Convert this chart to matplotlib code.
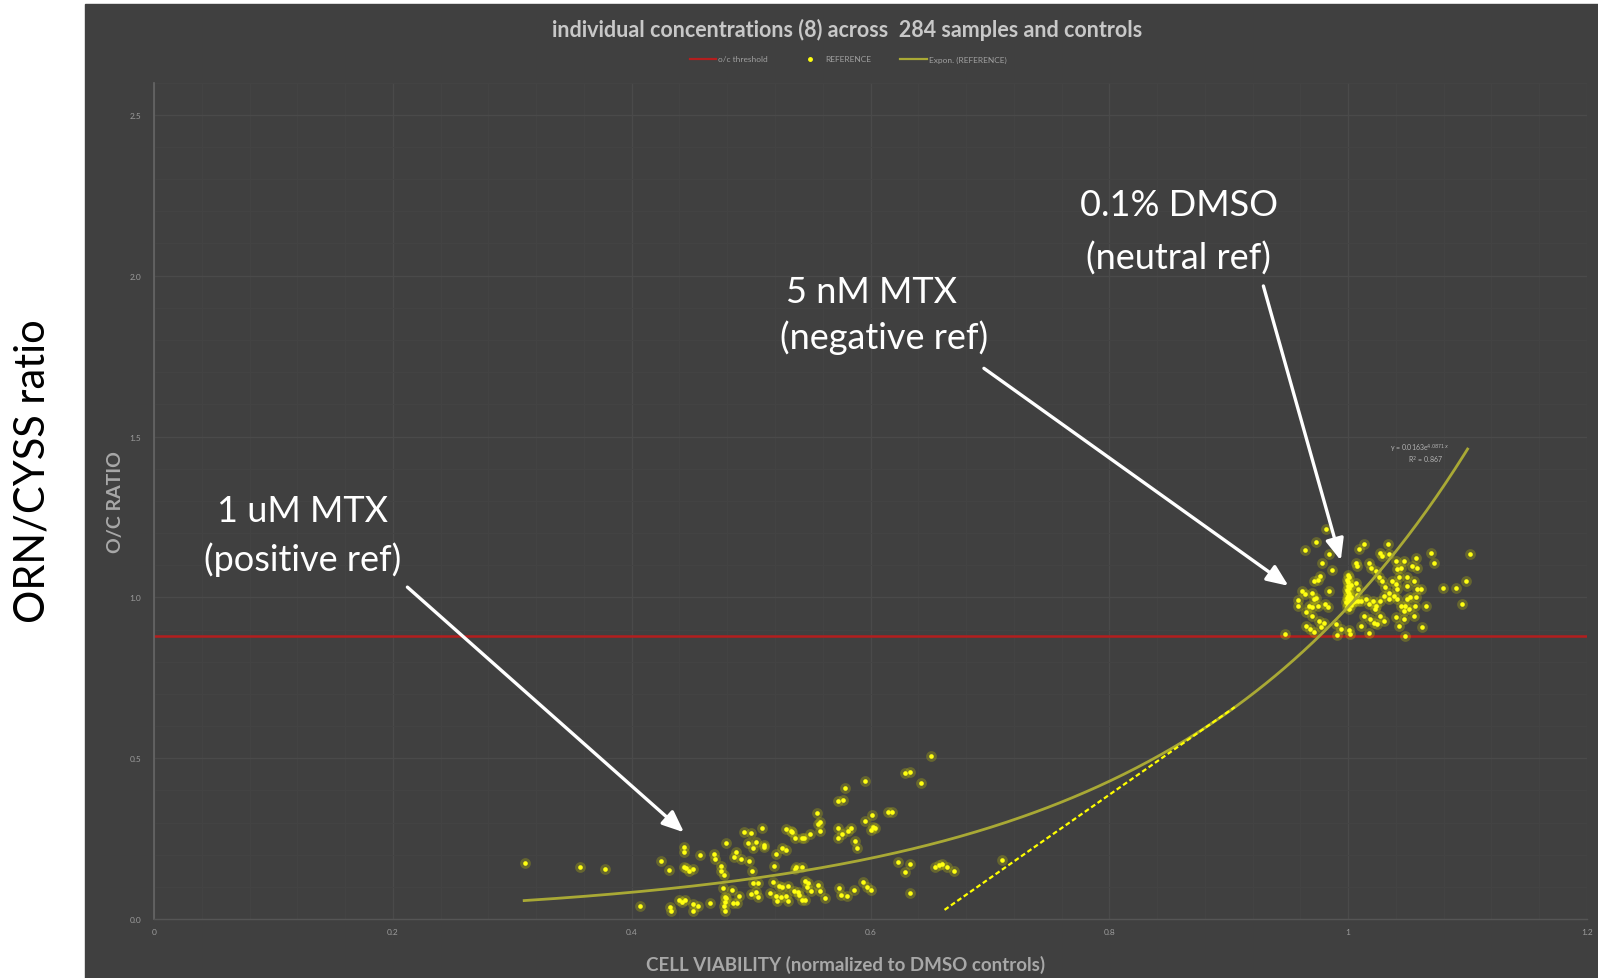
import numpy as np
import matplotlib
matplotlib.use("Agg")
import matplotlib.pyplot as plt
from matplotlib.patches import Rectangle
from matplotlib.lines import Line2D

# ---- data -------------------------------------------------------------
# treated samples, low viability cluster (cell viability, O/C ratio)
low_x = [0.311, 0.357, 0.378, 0.4067, 0.4245, 0.431, 0.4318, 0.433, 0.440, 0.4425,
         0.4435, 0.444, 0.444, 0.445, 0.4457, 0.448, 0.451, 0.451, 0.451, 0.4556,
         0.4575, 0.4658, 0.469, 0.470, 0.475, 0.475, 0.4764, 0.477, 0.477, 0.478,
         0.4778, 0.4778, 0.4787, 0.479, 0.484, 0.4848, 0.486, 0.4875, 0.488, 0.490,
         0.4917, 0.494, 0.497, 0.498, 0.500, 0.5005, 0.500, 0.502, 0.502, 0.504,
         0.504, 0.5056, 0.5056, 0.509, 0.5105, 0.5107, 0.516, 0.518, 0.519, 0.521,
         0.521, 0.522, 0.523, 0.525, 0.526, 0.526, 0.529, 0.529, 0.529, 0.531,
         0.531, 0.5336, 0.534, 0.536, 0.537, 0.537, 0.538, 0.539, 0.540, 0.543,
         0.543, 0.543, 0.544, 0.545, 0.545, 0.547, 0.548, 0.5495, 0.550, 0.555,
         0.556, 0.556, 0.558, 0.558, 0.558, 0.562, 0.5725, 0.573, 0.573, 0.574,
         0.5755, 0.576, 0.577, 0.579, 0.5805, 0.581, 0.584, 0.5866, 0.587, 0.5888,
         0.5936, 0.595, 0.5958, 0.597, 0.6005, 0.6005, 0.601, 0.602, 0.604, 0.6145,
         0.618, 0.623, 0.629, 0.629, 0.633, 0.633, 0.633, 0.6427, 0.651, 0.6544,
         0.6577, 0.660, 0.6638, 0.6697, 0.710]
low_y = [0.175, 0.163, 0.157, 0.042, 0.180, 0.153, 0.037, 0.026, 0.061, 0.053,
         0.163, 0.223, 0.208, 0.061, 0.158, 0.149, 0.156, 0.047, 0.025, 0.040,
         0.199, 0.049, 0.202, 0.187, 0.165, 0.151, 0.096, 0.138, 0.042, 0.026,
         0.068, 0.0525, 0.236, 0.065, 0.0916, 0.050, 0.193, 0.208, 0.049, 0.073,
         0.187, 0.270, 0.237, 0.180, 0.267, 0.149, 0.078, 0.221, 0.112, 0.239,
         0.084, 0.112, 0.068, 0.282, 0.230, 0.223, 0.080, 0.115, 0.166, 0.203,
         0.073, 0.058, 0.102, 0.068, 0.220, 0.099, 0.280, 0.215, 0.073, 0.102,
         0.056, 0.275, 0.270, 0.089, 0.251, 0.156, 0.161, 0.084, 0.075, 0.252,
         0.161, 0.060, 0.252, 0.120, 0.061, 0.099, 0.112, 0.265, 0.089, 0.330,
         0.296, 0.106, 0.303, 0.273, 0.089, 0.066, 0.252, 0.366, 0.282, 0.097,
         0.075, 0.265, 0.370, 0.407, 0.073, 0.275, 0.282, 0.091, 0.242, 0.221,
         0.117, 0.430, 0.306, 0.101, 0.278, 0.092, 0.324, 0.285, 0.282, 0.334,
         0.332, 0.179, 0.453, 0.146, 0.456, 0.171, 0.080, 0.423, 0.506, 0.161,
         0.168, 0.171, 0.163, 0.151, 0.185]

# treated samples around full viability
high_x = [0.947, 0.9576, 0.958, 0.9612, 0.964, 0.964, 0.9646, 0.9646, 0.967, 0.968,
          0.9696, 0.9696, 0.970, 0.971, 0.9715, 0.9715, 0.973, 0.973, 0.975, 0.975,
          0.9757, 0.9763, 0.977, 0.9777, 0.980, 0.981, 0.9818, 0.9835, 0.984, 0.984,
          0.9868, 0.9896, 0.991, 0.9937, 1.0008, 1.0014, 1.0064, 1.0064, 1.0073, 1.0078,
          1.0086, 1.009, 1.0106, 1.0106, 1.013, 1.013, 1.0148, 1.0176, 1.0176, 1.0176,
          1.018, 1.019, 1.021, 1.022, 1.0226, 1.023, 1.023, 1.0245, 1.026, 1.027,
          1.027, 1.027, 1.0285, 1.0287, 1.030, 1.030, 1.031, 1.033, 1.034, 1.034,
          1.034, 1.037, 1.0385, 1.0398, 1.0398, 1.0398, 1.041, 1.041, 1.041, 1.0427,
          1.0427, 1.044, 1.044, 1.0467, 1.0467, 1.0467, 1.048, 1.048, 1.0496, 1.0496,
          1.0496, 1.051, 1.052, 1.0538, 1.055, 1.055, 1.0566, 1.0566, 1.056, 1.058,
          1.058, 1.0607, 1.062, 1.065, 1.069, 1.072, 1.079, 1.090, 1.095, 1.0985,
          1.102]
high_y = [0.887, 0.992, 0.972, 1.020, 1.148, 1.010, 0.955, 0.910, 0.974, 0.901,
          1.015, 0.943, 0.969, 1.051, 0.994, 0.893, 1.172, 0.997, 1.053, 0.974,
          0.927, 1.067, 0.907, 1.108, 0.922, 0.981, 1.212, 0.969, 1.134, 1.020,
          1.085, 0.917, 0.883, 0.901, 0.899, 0.886, 1.108, 1.044, 1.007, 1.098,
          1.026, 1.150, 0.989, 0.912, 1.166, 0.943, 0.994, 1.108, 0.979, 0.889,
          0.932, 1.093, 0.989, 0.922, 0.963, 1.082, 0.972, 0.917, 1.062, 1.139,
          0.989, 0.941, 1.051, 1.129, 1.003, 0.927, 1.031, 1.165, 1.134, 1.015,
          0.994, 1.051, 1.005, 1.113, 1.041, 0.938, 1.088, 1.026, 0.994, 1.062,
          0.912, 1.093, 0.974, 1.113, 0.932, 0.958, 0.974, 0.880, 1.062, 1.036,
          0.994, 0.963, 1.000, 1.098, 1.051, 0.943, 1.124, 1.000, 0.974, 1.093,
          1.026, 1.026, 0.907, 0.972, 1.139, 1.108, 1.028, 1.029, 0.979, 1.051,
          1.136]

# 0.1% DMSO controls
dmso_x = [1.000, 1.001, 0.999, 1.000, 1.002, 1.000, 1.001, 0.999, 1.000, 1.001,
          1.000, 1.002, 0.999, 1.000, 1.001, 1.003, 1.000, 0.998, 1.001, 1.004,
          1.006, 1.008, 1.000, 1.002, 0.999, 1.001]
dmso_y = [1.070, 1.062, 1.055, 1.048, 1.040, 1.035, 1.028, 1.022, 1.016, 1.010,
          1.005, 1.000, 0.998, 0.995, 0.992, 0.990, 0.988, 0.985, 0.983, 0.986,
          0.990, 0.988, 0.978, 0.975, 0.970, 0.965]

threshold = 0.88
fit_a, fit_b, fit_r2 = 0.0163, 4.0871, 0.867
fit_range = [0.31, 1.10]
tangent_x = [0.662, 0.905]
tangent_y = [0.029, 0.659]

x_ticks = [0, 0.2, 0.4, 0.6, 0.8, 1.0, 1.2]
x_tick_labels = ["0", "0.2", "0.4", "0.6", "0.8", "1", "1.2"]
y_ticks = [0.0, 0.5, 1.0, 1.5, 2.0, 2.5]
y_tick_labels = ["0.0", "0.5", "1.0", "1.5", "2.0", "2.5"]

# ---- figure -----------------------------------------------------------
W, H = 1598, 979
FONT = ["Lato", "DejaVu Sans"]
plt.rcParams["font.family"] = FONT

fig = plt.figure(figsize=(W / 100, H / 100), dpi=100, facecolor="white")
BG = "#404040"
fig.add_artist(Rectangle((85 / W, 0), 1 - 85 / W, (H - 5) / H,
                         transform=fig.transFigure, color=BG, zorder=0))

def fx(px):
    return px / W

def fy(py):
    return 1 - py / H

ax = fig.add_axes([fx(154), fy(920.2), (1587 - 154) / W, (920.2 - 83.6) / H])
ax.set_facecolor(BG)
ax.set_xlim(0, 1.2)
ax.set_ylim(0, 2.6)

ax.set_xticks(x_ticks)
ax.set_xticklabels(x_tick_labels)
ax.set_yticks(y_ticks)
ax.set_yticklabels(y_tick_labels)
ax.set_xticks(np.arange(0, 1.2001, 0.04), minor=True)
ax.set_yticks(np.arange(0, 2.6001, 0.1), minor=True)
ax.tick_params(which="both", length=0)
ax.tick_params(axis="x", labelsize=6, labelcolor="#9c9c9c", pad=6)
ax.tick_params(axis="y", labelsize=6, labelcolor="#9c9c9c", pad=9)
ax.grid(which="major", color="#4a4a4a", lw=1.0, zorder=0)
ax.grid(which="minor", color="#444444", lw=0.7, zorder=0)
ax.set_axisbelow(True)
for side in ("top", "right"):
    ax.spines[side].set_visible(False)
ax.spines["left"].set_color("#666666")
ax.spines["left"].set_linewidth(1.2)
ax.spines["bottom"].set_color("#555555")
ax.spines["bottom"].set_linewidth(1.0)

# threshold
ax.axhline(threshold, color="#b41e1e", lw=1.8, zorder=2)

# scatter with a soft glow
all_x = low_x + high_x + dmso_x
all_y = low_y + high_y + dmso_y
ax.scatter(all_x, all_y, s=60, color="#d8d800", alpha=0.25, lw=0, zorder=3)
ax.scatter(all_x, all_y, s=11, color="#ffff10", lw=0, zorder=4)

# exponential trendline
xf = np.linspace(fit_range[0], fit_range[1], 300)
ax.plot(xf, fit_a * np.exp(fit_b * xf), color="#a9a935", lw=2.0, zorder=5)
ax.text(1.06, 1.465, "y = %.4fe$^{%.4fx}$" % (fit_a, fit_b), fontsize=5,
        color="#b4b4b4", ha="center", va="center", zorder=6)
ax.text(1.065, 1.43, "R$^2$ = %.3f" % fit_r2, fontsize=5,
        color="#b4b4b4", ha="center", va="center", zorder=6)

# tangent
ax.plot(tangent_x, tangent_y, color="#ffff00", lw=1.6, dashes=(2.2, 1.3), zorder=5)

# annotations
arrow = dict(arrowstyle="-|>,head_length=1.3,head_width=0.55", color="white",
             lw=2.4, shrinkA=0, shrinkB=0)
ann_font = dict(fontsize=26, color="white", ha="center", va="center", zorder=8)
ax.text(0.858, 2.222, "0.1% DMSO", **ann_font)
ax.text(0.858, 2.057, "(neutral ref)", **ann_font)
ax.text(0.601, 1.952, "5 nM MTX", **ann_font)
ax.text(0.611, 1.810, "(negative ref)", **ann_font)
ax.text(0.1244, 1.269, "1 uM MTX", **ann_font)
ax.text(0.1244, 1.120, "(positive ref)", **ann_font)
ax.annotate("", xy=(0.9938, 1.115), xytext=(0.929, 1.968), arrowprops=arrow, zorder=7)
ax.annotate("", xy=(0.950, 1.036), xytext=(0.695, 1.712), arrowprops=arrow, zorder=7)
ax.annotate("", xy=(0.4438, 0.27), xytext=(0.2122, 1.032), arrowprops=arrow, zorder=7)

# titles and axis labels
fig.text(fx(847), fy(30), "individual concentrations (8) across  284 samples and controls",
         fontsize=15.5, fontweight="bold", color="#c8c8c8", ha="center", va="center")
fig.text(fx(846), fy(965), "CELL VIABILITY (normalized to DMSO controls)",
         fontsize=13.5, fontweight="bold", color="#a8a8a8", ha="center", va="center")
fig.text(fx(115), fy(502), "O/C RATIO", rotation=90, fontsize=14,
         fontweight="bold", color="#a8a8a8", ha="center", va="center")
fig.text(fx(33), fy(471), "ORN/CYSS ratio", rotation=90, fontsize=30,
         color="black", ha="center", va="center")

# legend
handles = [Line2D([], [], color="#b41e1e", lw=1.6),
           Line2D([], [], color="#ffff10", marker="o", ms=2.5, lw=0),
           Line2D([], [], color="#a9a935", lw=1.6)]
labels = ["o/c threshold", "REFERENCE", "Expon. (REFERENCE)"]
fig.legend(handles, labels, loc="center", bbox_to_anchor=(fx(848), fy(60)),
           ncol=3, fontsize=6, frameon=False, labelcolor="#a0a0a0",
           handlelength=3.2, handletextpad=0.2, columnspacing=3.5)

fig.savefig("out.png", dpi=100, facecolor="white")
